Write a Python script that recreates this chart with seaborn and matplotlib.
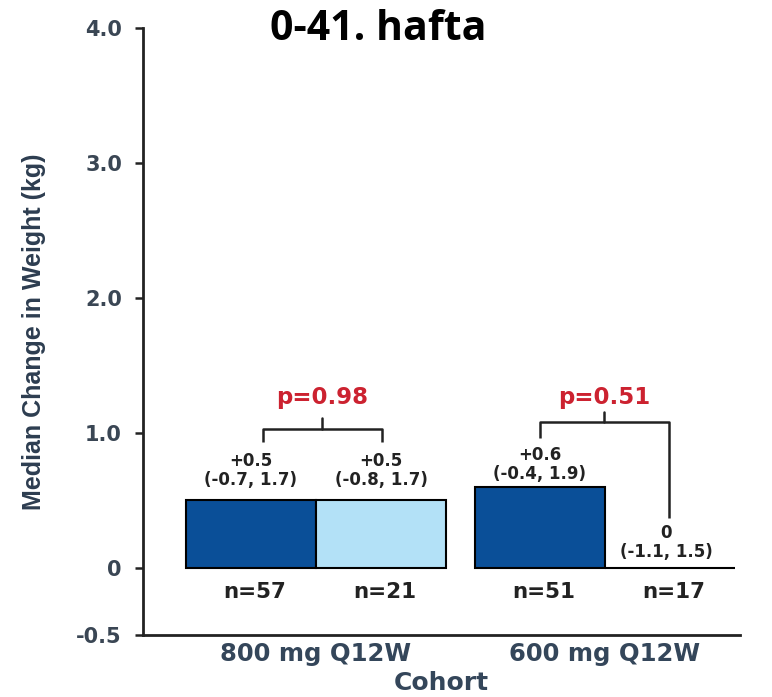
import matplotlib
matplotlib.use("Agg")
import matplotlib.pyplot as plt
import seaborn as sns
import pandas as pd

# ---- data ----
positions = [0.0, 1.0, 2.22, 3.22]
medians = [0.5, 0.5, 0.6, 0.0]
arm = ["A", "B", "A", "B"]
value_labels = ["+0.5", "+0.5", "+0.6", "0"]
ci_labels = ["(-0.7, 1.7)", "(-0.8, 1.7)", "(-0.4, 1.9)", "(-1.1, 1.5)"]
n_labels = ["n=57", "n=21", "n=51", "n=17"]
cohorts = ["800 mg Q12W", "600 mg Q12W"]
p_values = ["p=0.98", "p=0.51"]
title = "0-41. hafta"

df = pd.DataFrame({"pos": positions, "median": medians, "arm": arm})

sns.set_style("white")
plt.rcParams["font.family"] = ["DejaVu Sans"]

fig = plt.figure(figsize=(7.72, 6.97), dpi=100)
ax = fig.add_axes([0.185, 0.089, 0.774, 0.871])

sns.barplot(data=df, x="pos", y="median", hue="arm", native_scale=True,
            dodge=False, width=1.0, palette={"A": "#0a4f98", "B": "#b3e1f7"},
            saturation=1, edgecolor="black", linewidth=1.5, legend=False,
            ax=ax, errorbar=None)

ax.set_ylim(-0.5, 4.0)
ax.set_xlim(-0.83, 3.76)
ax.set_yticks([-0.5, 0, 1, 2, 3, 4])
ax.set_yticklabels(["-0.5", "0", "1.0", "2.0", "3.0", "4.0"])
centers = [(positions[0] + positions[1]) / 2, (positions[2] + positions[3]) / 2]
ax.set_xticks(centers)
ax.set_xticklabels(cohorts)
for s in ["top", "right"]:
    ax.spines[s].set_visible(False)
for s in ["left", "bottom"]:
    ax.spines[s].set_linewidth(2.0)
    ax.spines[s].set_color("#222222")
ax.tick_params(axis="y", length=6, width=1.8, colors="#222222", labelcolor="#3a4654",
               labelsize=15, direction="out", left=True, pad=9)
ax.tick_params(axis="x", length=0, labelcolor="#34465a", labelsize=17.5, pad=5)
for lab in ax.get_yticklabels():
    lab.set_fontweight("bold")
for lab in ax.get_xticklabels():
    lab.set_fontweight("bold")

ax.set_ylabel("Median Change in Weight (kg)", fontsize=18, color="#2d3d50",
              fontweight="bold", family=["Liberation Sans Narrow", "Liberation Sans", "DejaVu Sans"],
              labelpad=22)
ax.set_xlabel("Cohort", fontsize=18, color="#34465a", fontweight="bold", labelpad=4)

# labels above bars (median and range, two lines)
lab_kw = dict(ha="center", va="center", fontsize=12, fontweight="bold", color="#222222",
              linespacing=1.05)
offsets = [0.22, 0.22, 0.165, 0.185]
xshift = [0.0, 0.0, 0.0, -0.03]
for x, m, v, c, o, dx in zip(positions, medians, value_labels, ci_labels, offsets, xshift):
    ax.text(x + dx, m + o, v + "\n" + c, **lab_kw)

for x, n in zip(positions, n_labels):
    ax.text(x + 0.03, -0.18, n, ha="center", va="center", fontsize=15.5,
            fontweight="bold", color="#222222")

# brackets
def bracket(x1, x2, y, y1, y2, ptxt, ptop):
    xm = (x1 + x2) / 2
    ax.plot([x1, x1, x2, x2], [y1, y, y, y2], color="#222222", lw=1.8, solid_capstyle="butt")
    ax.plot([xm, xm], [y, y + 0.075], color="#222222", lw=1.8)
    ax.text(xm, ptop, ptxt, ha="center", va="center", fontsize=16.5,
            fontweight="bold", color="#cc2230")

bracket(0.09, 1.01, 1.03, 0.93, 0.93, p_values[0], 1.26)
bracket(2.22, 3.21, 1.08, 0.96, 0.37, p_values[1], 1.26)

fig.text(0.49, 0.957, title, ha="center", va="center", fontsize=29.5, fontweight="bold",
         color="black", family=["Open Sans", "DejaVu Sans"])

fig.savefig("out.png", dpi=100)
